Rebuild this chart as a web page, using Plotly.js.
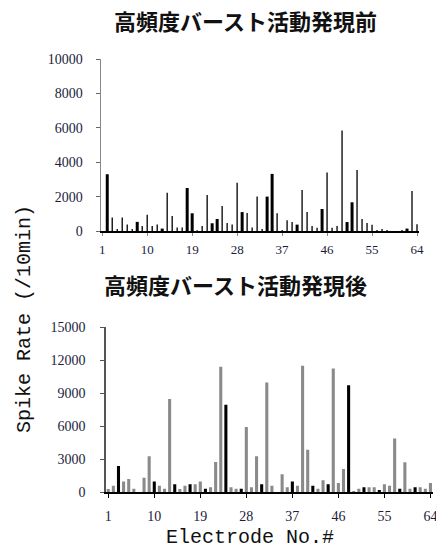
<!DOCTYPE html>
<html>
<head>
<meta charset="utf-8">
<script src="https://cdn.plot.ly/plotly-3.0.1.min.js"></script>
<style>html,body{margin:0;padding:0;background:#fff;}#chart{width:436px;height:552px;}</style>
</head>
<body>
<div id="chart"></div>
<script>
const electrodes = [1,2,3,4,5,6,7,8,9,10,11,12,13,14,15,16,17,18,19,20,21,22,23,24,25,26,27,28,29,30,31,32,
  33,34,35,36,37,38,39,40,41,42,43,44,45,46,47,48,49,50,51,52,53,54,55,56,57,58,59,60,61,62,63,64];
const tickLabels = [1,10,19,28,37,46,55,64];
const yTicksBefore = [0,2000,4000,6000,8000,10000];
const yTicksAfter = [0,3000,6000,9000,12000,15000];

// Before high-frequency burst activity (top): thick (filled) and thin bars
const beforeThick = [null,3300,null,null,null,null,null,530,null,null,null,null,140,null,null,null,
  null,2500,1030,null,null,null,450,700,null,null,null,null,1100,null,null,null,
  null,2000,3320,null,null,null,null,370,null,null,null,null,1280,null,null,null,
  null,520,1670,null,null,null,null,null,null,null,null,null,null,140,null,null];
const beforeThin = [0,null,780,120,780,380,120,null,290,950,290,380,null,2230,870,210,
  210,null,null,40,290,2100,null,null,1450,460,380,2800,null,1050,210,2000,
  110,null,null,1030,60,620,520,null,2390,1100,290,190,null,3400,190,290,
  5840,null,null,3550,700,460,370,60,110,60,0,0,60,null,2330,390];

// After high-frequency burst activity (bottom): gray and black bars
const afterGray = [300,600,null,970,1210,330,0,1330,3260,null,600,330,8460,null,300,600,
  null,725,970,null,450,2750,11390,null,450,330,null,5920,450,3260,null,9970,
  600,0,1630,450,null,600,11480,3870,null,330,1090,null,11230,850,2110,null,
  120,330,null,450,450,null,725,600,4890,null,2720,330,null,450,330,850];
const afterBlack = [null,null,2390,null,null,null,null,null,null,970,null,null,null,725,null,null,
  725,null,null,330,null,null,null,7940,null,null,330,null,null,null,725,null,
  null,null,null,null,970,null,null,null,600,null,null,725,null,null,null,9720,
  null,null,450,null,null,210,null,null,null,330,null,null,450,null,null,null];

const titleBefore = '高頻度バースト活動発現前';
const titleAfter = '高頻度バースト活動発現後';
const yTitle = 'Spike Rate (/10min)';
const xTitle = 'Electrode No.#';

const W = 436, H = 552;
const px = v => v / W, py = v => 1 - v / H;
const tickFont = {family: 'Liberation Serif, serif', size: 14, color: '#1c1c3c'};

const traces = [
  {type:'bar', x: electrodes, y: beforeThick, width: 0.6, marker:{color:'#000'}, xaxis:'x', yaxis:'y', hoverinfo:'skip'},
  {type:'bar', x: electrodes, y: beforeThin, width: 0.28, marker:{color:'#111'}, xaxis:'x', yaxis:'y', hoverinfo:'skip'},
  {type:'bar', x: electrodes, y: afterGray, width: 0.6, marker:{color:'#8a8a8a'}, xaxis:'x2', yaxis:'y2', hoverinfo:'skip'},
  {type:'bar', x: electrodes, y: afterBlack, width: 0.6, marker:{color:'#000'}, xaxis:'x2', yaxis:'y2', hoverinfo:'skip'}
];

const layout = {
  width: W, height: H,
  margin: {l:0, r:0, t:0, b:0},
  paper_bgcolor: '#fff', plot_bgcolor: '#fff',
  showlegend: false,
  barmode: 'overlay',
  xaxis: {
    domain: [px(101), px(419)], range: [0.75, 64.4], anchor: 'y',
    tickvals: tickLabels, ticktext: tickLabels.map(String),
    ticks: 'outside', ticklen: 3, tickcolor: '#888', ticklabelstandoff: 3,
    showline: true, linecolor: '#000', linewidth: 1.5,
    showgrid: false, zeroline: false, ticklabeloverflow: 'allow',
    tickfont: {family: 'Liberation Serif, serif', size: 13, color: '#1c1c3c'}
  },
  yaxis: {
    domain: [py(231), py(59)], range: [0, 10000], anchor: 'x',
    tickvals: yTicksBefore, ticktext: yTicksBefore.map(String),
    ticks: 'outside', ticklen: 4, tickcolor: '#666', ticklabelstandoff: 10,
    showline: true, linecolor: '#888', linewidth: 1.5,
    showgrid: false, zeroline: false, tickfont: tickFont
  },
  xaxis2: {
    domain: [px(105.7), px(433)], range: [0.5, 64.5], anchor: 'y2',
    tickvals: tickLabels, ticktext: tickLabels.map(String),
    ticks: 'outside', ticklen: 4, tickcolor: '#000', ticklabelstandoff: 6,
    showline: true, linecolor: '#000', linewidth: 1.5,
    showgrid: false, zeroline: false, ticklabeloverflow: 'allow',
    tickfont: {family: 'Liberation Serif, serif', size: 14, color: '#1c1c3c'}
  },
  yaxis2: {
    domain: [py(492.3), py(327)], range: [0, 15000], anchor: 'x2',
    tickvals: yTicksAfter, ticktext: yTicksAfter.map(String),
    ticks: 'outside', ticklen: 4, tickcolor: '#555', ticklabelstandoff: 12,
    showline: true, linecolor: '#555', linewidth: 1.5,
    showgrid: false, zeroline: false, tickfont: tickFont
  },
  annotations: [
    {text: titleBefore, xref:'paper', yref:'paper', x: px(246), y: py(20), showarrow:false,
     xanchor:'center', yanchor:'middle',
     font:{family:'Noto Sans CJK JP, sans-serif', size:22, color:'#111', weight:'bold'}},
    {text: titleAfter, xref:'paper', yref:'paper', x: px(235), y: py(284), showarrow:false,
     xanchor:'center', yanchor:'middle',
     font:{family:'Noto Sans CJK JP, sans-serif', size:22, color:'#111', weight:'bold'}},
    {text: yTitle, xref:'paper', yref:'paper', x: px(24), y: py(319), showarrow:false,
     xanchor:'center', yanchor:'middle', textangle: -90,
     font:{family:'Liberation Mono, monospace', size:20, color:'#111'}},
    {text: xTitle, xref:'paper', yref:'paper', x: px(250), y: py(537), showarrow:false,
     xanchor:'center', yanchor:'middle',
     font:{family:'Liberation Mono, monospace', size:20, color:'#111'}}
  ]
};

Plotly.newPlot('chart', traces, layout, {displayModeBar:false, staticPlot:true});
</script>
</body>
</html>
